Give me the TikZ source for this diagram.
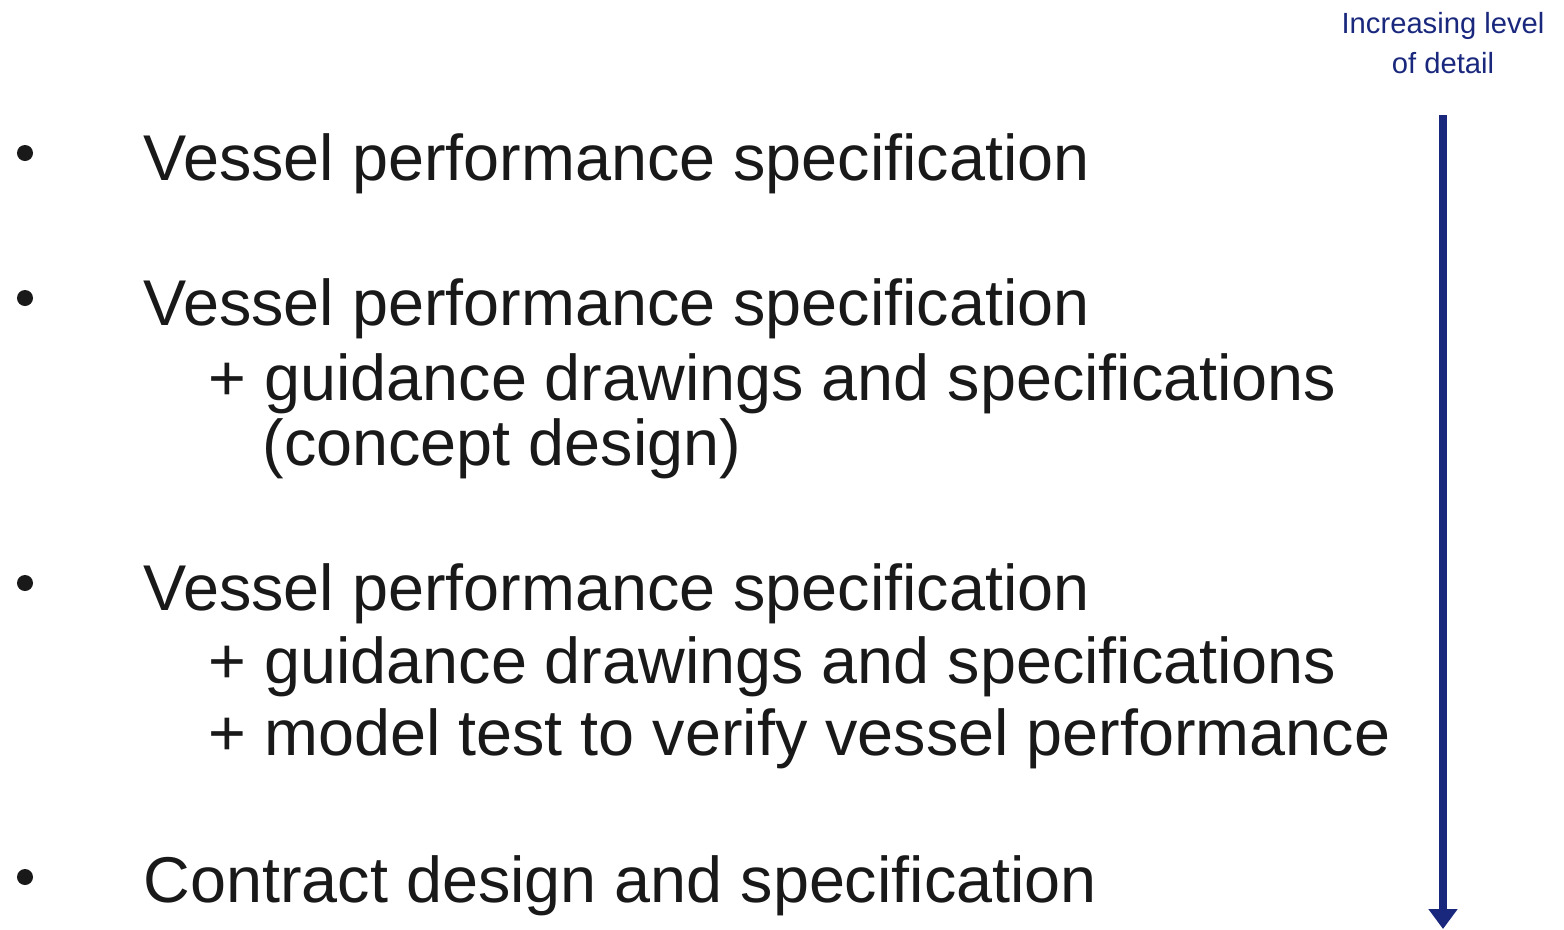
\documentclass[tikz,border=0pt]{standalone}
\usepackage{fontspec}
\setmainfont{Liberation Sans}
\usetikzlibrary{positioning}
\usetikzlibrary{arrows.meta}
\definecolor{navy}{RGB}{25,40,125}
\definecolor{ink}{RGB}{25,25,25}
\tikzset{line/.style={anchor=base west,inner sep=0pt,text=ink,font=\fontsize{18.4}{20}\selectfont}}
\tikzset{dot/.style={circle,fill=ink,inner sep=0pt,minimum size=0.16cm}}

\begin{document}
\begin{tikzpicture}[x=0.01cm,y=-0.01cm]
            \useasboundingbox (0,0) rectangle (1564,929);
            \node [line] (vi)  at (143,180) {Vessel performance specification};
            \node [line] (vii) at (143,325) {Vessel performance specification};
            \node [line] (gii) at (208,400) {+ guidance drawings and specifications};
            \node [line] (cii) at (262,465) {(concept design)};
            \node [line] (viii) at (143,610) {Vessel performance specification};
            \node [line] (giii) at (208,683) {+ guidance drawings and specifications};
            \node [line] (miii) at (208,755) {+ model test to verify vessel performance};
            \node [line] (civ) at (143,902) {Contract design and specification};
            \node [dot] (bi)   at (25,153) {};
            \node [dot] (bii)  at (25,298) {};
            \node [dot] (biii) at (25,583) {};
            \node [dot] (biv)  at (25,877) {};
            \node [align=center,text=navy,inner sep=0pt,font=\fontsize{8.3}{11.5}\selectfont] (lvl) at (1443,43) {Increasing level\\of detail};
            \coordinate (top) at (1443,115);
            \coordinate (bot) at (1443,929);
            \draw[navy,line width=0.08cm,-{Triangle[width=0.28cm,length=0.2cm]}] (top) -- (bot);
        \end{tikzpicture}
\end{document}
